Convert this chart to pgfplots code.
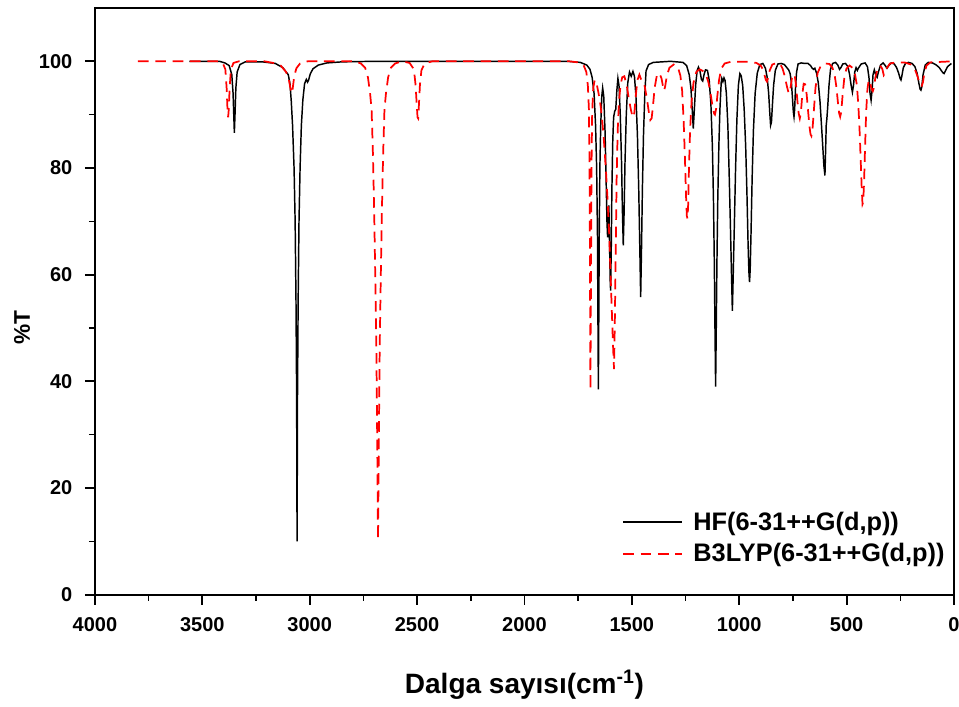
\documentclass[border=0pt]{standalone}
\usepackage{fontspec}
\setmainfont{Liberation Sans}
\usepackage{pgfplots}
\pgfplotsset{compat=1.18}
\definecolor{hfblack}{RGB}{0,0,0}
\definecolor{b3red}{RGB}{255,0,0}
\begin{document}
\begin{tikzpicture}
\useasboundingbox (-71.25pt,-83.5pt) rectangle (648pt,446pt);
\begin{axis}[
  at={(0,0)}, anchor=south west,
  scale only axis, width=644.25pt, height=440pt,
  x dir=reverse, xmin=0, xmax=4000, ymin=0, ymax=110,
  xtick={0,500,...,4000}, ytick={0,20,...,100},
  minor x tick num=1, minor y tick num=1,
  xtick pos=lower, ytick pos=left,
  tick align=outside,
  major tick length=7.5pt, minor tick length=4.5pt,
  axis line style={line width=1.7pt},
  major tick style={line width=1.4pt, black},
  minor tick style={line width=1.2pt, black},
  /pgf/number format/assume math mode=true,
  /pgf/number format/1000 sep={},
  tick label style={font=\bfseries\fontsize{15}{15}\selectfont},
  yticklabel style={xshift=-6pt},
  xticklabel style={yshift=-6pt},
  xlabel={Dalga sayısı(cm\textsuperscript{-1})},
  ylabel={\%T},
  xlabel style={font=\bfseries\fontsize{21}{21}\selectfont, at={(axis description cs:0.5,-0.1535)}, anchor=center},
  ylabel style={font=\bfseries\fontsize{17}{17}\selectfont, at={(axis description cs:-0.085,0.4546)}, anchor=center},
  legend style={draw=none, fill=none, font=\bfseries\fontsize{19}{19}\selectfont,
    at={(axis description cs:0.997,0.043)}, anchor=south east, row sep=4.5pt},
  legend cell align=left,
  legend image code/.code={\draw[#1] (0pt,0pt) -- (44pt,0pt); \path (50pt,0pt);},
]
% HF/6-31++G(d,p) computed spectrum
\addplot[hfblack, line width=1.1pt] coordinates {
(3560,100) (3420,100) (3395,99.7) (3375,99.2) (3363,97.5) (3357,94) (3353,89) (3351,86.6) (3348,90) (3344,95) (3338,98) (3325,99.4) (3300,99.9) (3220,99.9) (3160,99.6) (3125,98.8) (3100,97.5) (3092,95.8) (3086,92.5) (3080,88) (3073,80) (3068,70) (3064,55) (3061,37) (3059,10) (3057,37) (3054,55) (3050,70) (3045,80) (3039,88) (3032,92.8) (3024,95.8) (3016,96.6) (3010,96.1) (3005,96.5) (2998,97.6) (2985,98.6) (2960,99.3) (2920,99.7) (2850,99.9) (2700,100) (1800,100) (1740,99.8) (1710,99.3) (1695,98.5) (1685,97) (1676,94) (1669,88) (1664,80) (1660,67) (1658,52) (1656,38.5) (1654,52) (1652,67) (1649,80) (1645,88) (1640,93.5) (1636,95) (1631,93.5) (1625,87) (1620,78) (1616,70) (1613,67) (1610,70.5) (1607,73) (1604,66) (1601,59) (1599,57) (1596,65) (1593,76) (1589,85) (1585,89.5) (1580,90.6) (1575,91) (1570,94.5) (1565,96.8) (1560,95.5) (1554,90) (1548,81) (1544,72) (1540,65.5) (1536,72) (1532,81) (1526,90) (1519,96) (1511,98) (1503,97.2) (1495,98.1) (1488,97.2) (1481,93.5) (1474,86) (1468,76) (1463,65) (1459,55.8) (1455,65) (1451,76) (1446,86) (1440,93.5) (1434,98.2) (1422,99.4) (1400,99.8) (1320,100) (1262,99.8) (1245,99.2) (1233,97.5) (1225,95) (1219,91) (1214,87.4) (1209,91) (1203,95.5) (1196,98.3) (1190,98.9) (1183,98.2) (1176,96.6) (1170,96.3) (1164,97.5) (1157,98.4) (1148,98.3) (1140,96.5) (1132,92) (1125,84) (1120,74) (1116,62) (1113,50) (1110,39) (1107,50) (1104,62) (1100,74) (1095,84) (1090,91) (1084,96) (1081,96.8) (1076,96.2) (1071,96.9) (1066,96.4) (1060,94) (1053,88) (1047,79) (1041,69) (1036,60) (1032,53.2) (1028,60) (1023,69) (1017,80) (1011,89) (1004,95.5) (997,97.7) (991,97.3) (984,95.5) (977,91) (970,84) (964,75) (959,66) (955,60.5) (952,58.6) (949,61) (945,68) (940,78) (934,87) (926,94) (916,97.8) (904,99.4) (890,99.6) (878,98.7) (870,97) (863,94) (858,90.5) (854,88) (850,88.6) (846,91.5) (840,95.5) (832,98.3) (820,99.5) (805,99.6) (790,99.4) (778,98.8) (770,98.4) (763,97.7) (757,96) (752,93) (748,90.5) (745,89.6) (742,91) (738,95) (733,98) (726,99.5) (712,99.7) (695,99.6) (680,99.6) (668,99.2) (660,98.7) (654,98.5) (648,98.7) (640,97.8) (632,96) (624,92.5) (617,88) (611,84) (606,80.5) (601,78.6) (598,83) (595,88) (592,89.2) (588,91.5) (582,95.5) (575,98.5) (565,99.6) (552,99.8) (541,99.3) (533,98.5) (527,98.8) (518,99.5) (505,99.6) (494,99) (486,97.5) (479,95.5) (473,94.2) (468,95.5) (462,98) (456,98.8) (450,98.3) (444,98.8) (432,99.5) (414,99.7) (403,99) (396,97) (391,94) (386,92.7) (382,94.3) (377,97.5) (371,98.4) (364,97.4) (358,97) (352,98) (342,99.3) (330,99.7) (320,99.2) (312,98.7) (304,99.2) (292,99.7) (278,99.5) (267,98.8) (258,97.8) (251,96.8) (247,96.5) (243,97.2) (236,98.8) (226,99.6) (212,99.8) (195,99.6) (182,99) (172,97.8) (164,96) (158,94.8) (154,94.6) (150,95.2) (144,97.5) (134,99.3) (120,99.8) (100,99.7) (82,99.3) (68,98.8) (58,98.2) (50,97.8) (46,97.7) (40,98.2) (30,99) (12,99.6)
};
\addlegendentry{HF(6-31++G(d,p))}
% B3LYP/6-31++G(d,p) computed spectrum
\addplot[b3red, line width=1.3pt, dash pattern=on 8pt off 5pt] coordinates {
(3800,100) (3430,100) (3405,99.7) (3393,98.5) (3387,95) (3383,91) (3380,89.5) (3377,91) (3373,95) (3367,98.5) (3355,99.7) (3330,100) (3210,100) (3170,99.7) (3135,99.2) (3110,98) (3097,96.5) (3088,94.5) (3084,94) (3079,95) (3072,97.3) (3062,98.7) (3045,99.6) (3010,100) (2790,100) (2762,99.6) (2742,98.8) (2729,97) (2719,94) (2712,91) (2706,83) (2700,72) (2695,60) (2690,47) (2686,30) (2682,10.3) (2678,30) (2674,47) (2669,60) (2664,72) (2658,83) (2652,91) (2645,94) (2635,97) (2622,98.8) (2602,99.6) (2570,100) (2535,99.7) (2515,98.5) (2507,95.5) (2502,92) (2498,89.5) (2495,89.3) (2492,91.5) (2487,95.5) (2480,98.3) (2465,99.6) (2430,100) (1790,100) (1750,99.8) (1725,99.3) (1712,98) (1705,95.5) (1700,91) (1697,80) (1695,62) (1693,38.4) (1690,62) (1688,80) (1685,90) (1680,95) (1673,96.5) (1665,96) (1655,94) (1645,91.5) (1636,88) (1628,84) (1620,79) (1613,74) (1606,68) (1600,61) (1594,54) (1588,47) (1583,42.3) (1579,52) (1575,65) (1571,78) (1566,87) (1560,92.5) (1553,95.5) (1545,97) (1535,97.2) (1524,95.5) (1514,93) (1505,91) (1498,89.8) (1493,89.5) (1488,90.5) (1482,93.5) (1474,96.5) (1465,97.5) (1456,96.5) (1448,96.2) (1440,95.3) (1430,93) (1421,90.5) (1414,89) (1408,89.3) (1402,91.5) (1394,95) (1384,97.3) (1372,97.8) (1362,96.8) (1355,95.3) (1350,94.5) (1345,95.3) (1337,97.3) (1325,98.8) (1305,99.4) (1285,98.8) (1274,97.3) (1266,94.5) (1259,89) (1253,82) (1248,75) (1244,71) (1241,70.5) (1238,73) (1234,80) (1229,87) (1222,92.5) (1213,96) (1200,98) (1185,98.5) (1170,98.2) (1155,97.5) (1143,96) (1133,93.8) (1124,91.5) (1117,90.2) (1113,90) (1108,91) (1102,93.5) (1094,96.5) (1084,98.6) (1068,99.6) (1040,99.9) (960,99.9) (920,99.7) (900,99.2) (890,98.5) (882,97.4) (876,96.5) (871,96.2) (866,96.8) (858,98.3) (846,99.4) (825,99.7) (808,99.4) (798,98.6) (788,97.2) (778,95.3) (771,94.2) (767,94) (762,94.8) (755,96.8) (748,97.6) (741,97.2) (735,95.3) (729,92.5) (723,90.2) (718,89.3) (713,90.3) (707,93.5) (700,95.8) (693,95.7) (686,93.8) (679,90.5) (673,87.8) (668,86.3) (664,86) (659,87.2) (653,90.5) (645,95) (635,97.8) (620,99.2) (600,99.6) (580,99.5) (566,98.8) (556,97.5) (548,95.3) (541,92.5) (535,90.3) (530,89.6) (525,90.5) (519,93.5) (511,96.8) (501,98.6) (486,99.2) (473,98.8) (462,97.8) (452,95.5) (445,91.5) (439,86.5) (434,81) (430,76.5) (426,73.2) (423,73.5) (419,77) (414,84) (409,90.5) (403,94.8) (397,96.5) (390,96) (384,94.8) (378,94.4) (373,95) (366,97) (356,98.6) (344,99.2) (334,98.6) (327,97.4) (321,97.8) (312,98.8) (298,99.6) (270,99.8) (230,99.8) (200,99.4) (182,98.5) (170,97.2) (161,96) (155,95.5) (150,95.4) (145,96) (138,97.8) (128,99.2) (110,99.8) (60,99.9) (8,100)
};
\addlegendentry{B3LYP(6-31++G(d,p))}
\end{axis}
\end{tikzpicture}
\end{document}
